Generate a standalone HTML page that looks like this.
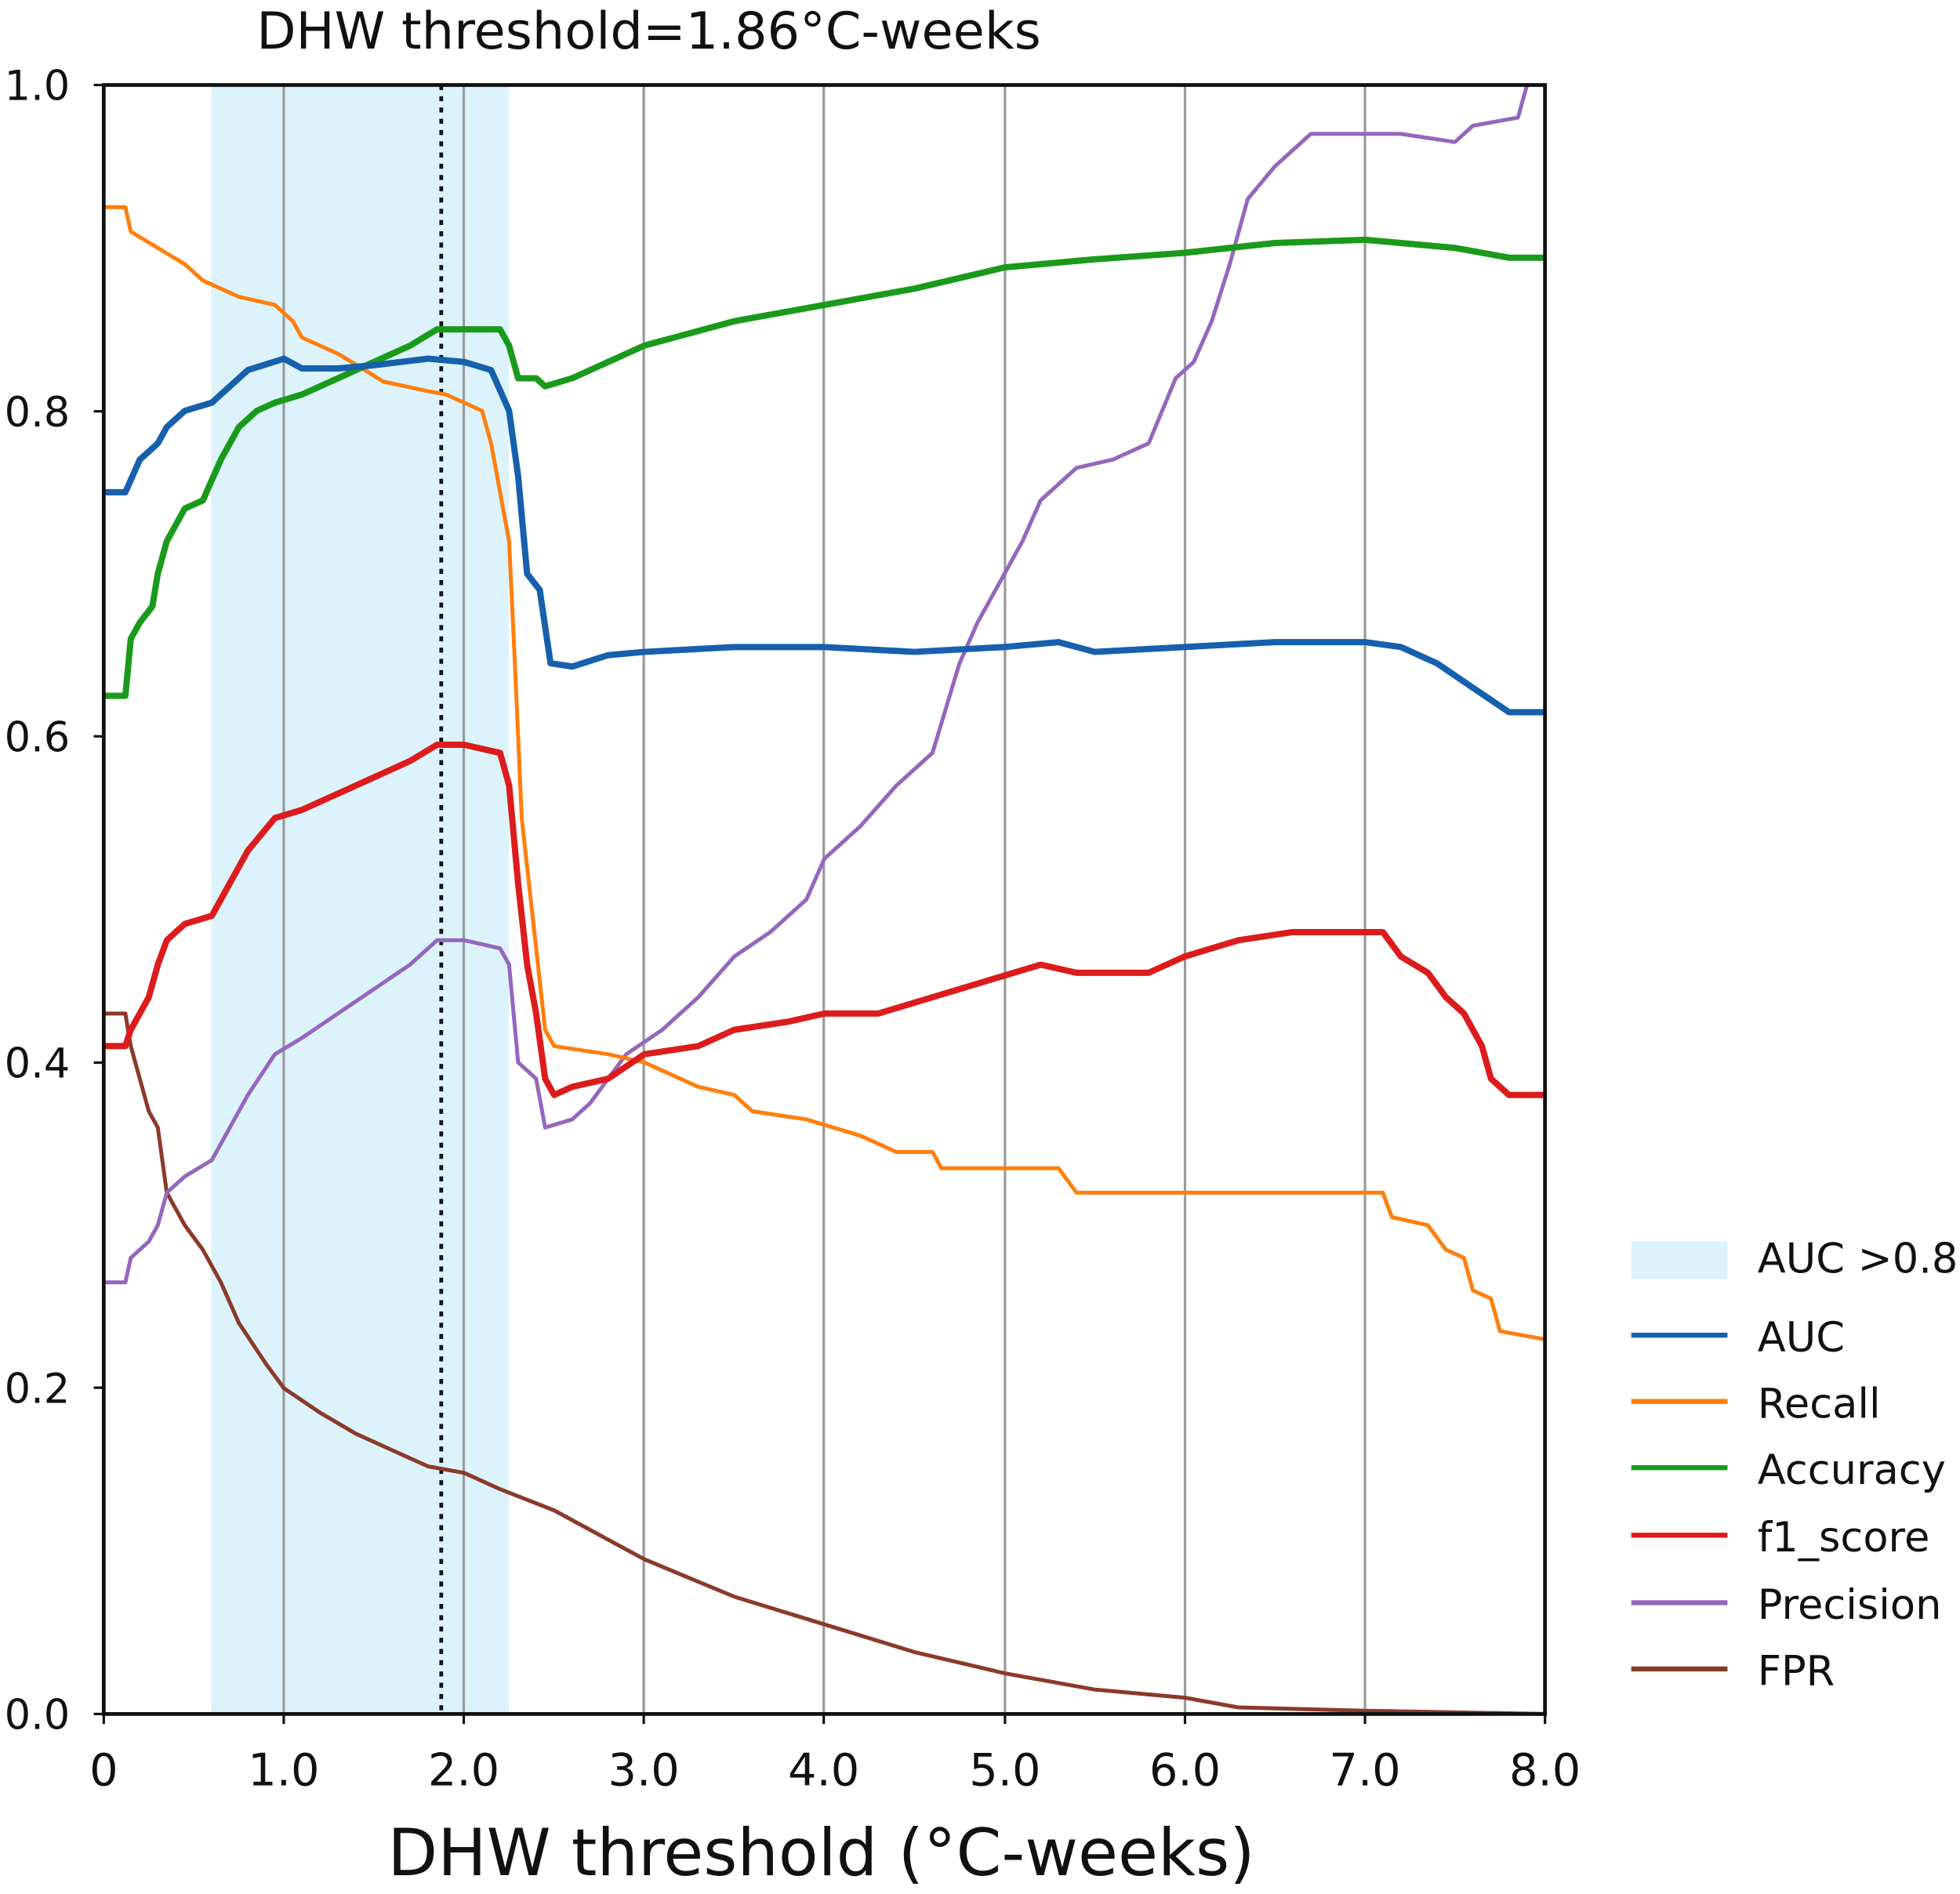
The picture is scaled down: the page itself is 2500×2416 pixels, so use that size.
<!DOCTYPE html>
<html><head><meta charset="utf-8"><style>
html,body{margin:0;padding:0;background:#fff}
svg{display:block}
text{font-family:"DejaVu Sans","Liberation Sans",sans-serif;fill:#111}
</style></head><body>
<svg width="2500" height="2416" viewBox="0 0 1568 1515" preserveAspectRatio="none" xmlns="http://www.w3.org/2000/svg">
<rect width="1568" height="1515" fill="#fff"/>
<text x="519" y="39" font-size="41" text-anchor="middle">DHW threshold=1.86°C-weeks</text>
<rect x="169" y="68" width="238" height="1303" fill="#dcf3fb"/>
<g stroke="#9a9a9a" stroke-width="2">
<line x1="227" y1="68" x2="227" y2="1371"/><line x1="371" y1="68" x2="371" y2="1371"/>
<line x1="515" y1="68" x2="515" y2="1371"/><line x1="659" y1="68" x2="659" y2="1371"/>
<line x1="804" y1="68" x2="804" y2="1371"/><line x1="948" y1="68" x2="948" y2="1371"/>
<line x1="1092" y1="68" x2="1092" y2="1371"/>
</g>
<line x1="353" y1="68" x2="353" y2="1371" stroke="#111" stroke-width="3" stroke-dasharray="4,5"/>
<g transform="translate(83,1371) scale(144.125,-1303)" fill="none" stroke-linejoin="round">
<polyline vector-effect="non-scaling-stroke" stroke="#8b3a2a" stroke-width="5" points="0,0.43 0.12,0.43 0.15,0.41 0.2,0.39 0.25,0.37 0.3,0.36 0.35,0.32 0.45,0.30 0.55,0.285 0.65,0.265 0.75,0.24 0.9,0.215 1.0,0.20 1.2,0.185 1.4,0.172 1.6,0.162 1.8,0.152 2.0,0.148 2.2,0.138 2.5,0.125 2.8,0.107 3.0,0.095 3.5,0.072 4.0,0.055 4.5,0.038 5.0,0.025 5.5,0.015 6.0,0.01 6.3,0.004 7.0,0.002 8.0,0.0"/>
<polyline vector-effect="non-scaling-stroke" stroke="#9467bd" stroke-width="5" points="0,0.265 0.12,0.265 0.15,0.28 0.25,0.29 0.3,0.3 0.35,0.32 0.45,0.33 0.6,0.34 0.7,0.36 0.8,0.38 0.95,0.405 1.1,0.415 1.3,0.43 1.5,0.445 1.7,0.46 1.85,0.475 2.0,0.475 2.2,0.47 2.25,0.46 2.3,0.40 2.4,0.39 2.45,0.36 2.6,0.365 2.7,0.375 2.9,0.405 3.1,0.42 3.3,0.44 3.5,0.465 3.7,0.48 3.9,0.50 4.0,0.525 4.2,0.545 4.4,0.57 4.6,0.59 4.75,0.645 4.85,0.67 5.0,0.70 5.1,0.72 5.2,0.745 5.4,0.765 5.6,0.77 5.8,0.78 5.95,0.82 6.05,0.83 6.15,0.855 6.25,0.89 6.35,0.93 6.5,0.95 6.7,0.97 7.2,0.97 7.5,0.965 7.6,0.975 7.85,0.98 7.9,1.0"/>
<polyline vector-effect="non-scaling-stroke" stroke="#ff7f0e" stroke-width="5" points="0,0.925 0.12,0.925 0.15,0.91 0.3,0.90 0.45,0.89 0.55,0.88 0.65,0.875 0.75,0.87 0.95,0.865 1.05,0.855 1.1,0.845 1.2,0.84 1.3,0.835 1.45,0.825 1.55,0.818 1.8,0.812 1.9,0.81 2.0,0.805 2.1,0.80 2.15,0.78 2.2,0.75 2.25,0.72 2.28,0.65 2.32,0.55 2.38,0.49 2.45,0.42 2.5,0.41 2.8,0.405 3.0,0.40 3.3,0.385 3.5,0.38 3.6,0.37 3.9,0.365 4.2,0.355 4.4,0.345 4.6,0.345 4.65,0.335 5.3,0.335 5.4,0.32 6.5,0.32 7.1,0.32 7.15,0.305 7.35,0.30 7.45,0.285 7.55,0.28 7.6,0.26 7.7,0.255 7.75,0.235 8.0,0.23"/>
<polyline vector-effect="non-scaling-stroke" stroke="#dc1c1c" stroke-width="8" points="0,0.41 0.12,0.41 0.15,0.42 0.25,0.44 0.3,0.46 0.35,0.475 0.45,0.485 0.6,0.49 0.7,0.51 0.8,0.53 0.95,0.55 1.1,0.555 1.3,0.565 1.5,0.575 1.7,0.585 1.85,0.595 2.0,0.595 2.2,0.59 2.25,0.57 2.3,0.51 2.35,0.46 2.4,0.43 2.45,0.39 2.5,0.38 2.6,0.385 2.8,0.39 3.0,0.405 3.3,0.41 3.5,0.42 3.8,0.425 4.0,0.43 4.3,0.43 4.6,0.44 4.9,0.45 5.2,0.46 5.4,0.455 5.8,0.455 6.0,0.465 6.3,0.475 6.6,0.48 7.1,0.48 7.2,0.465 7.35,0.455 7.45,0.44 7.55,0.43 7.65,0.41 7.7,0.39 7.8,0.38 8.0,0.38"/>
<polyline vector-effect="non-scaling-stroke" stroke="#1a9a1a" stroke-width="8" points="0,0.625 0.12,0.625 0.15,0.66 0.2,0.67 0.27,0.68 0.3,0.70 0.35,0.72 0.45,0.74 0.55,0.745 0.65,0.77 0.75,0.79 0.85,0.80 0.95,0.805 1.1,0.81 1.3,0.82 1.5,0.83 1.7,0.84 1.85,0.85 2.0,0.85 2.2,0.85 2.25,0.84 2.3,0.82 2.4,0.82 2.45,0.815 2.6,0.82 2.8,0.83 3.0,0.84 3.5,0.855 4.0,0.865 4.5,0.875 5.0,0.888 5.5,0.893 6.0,0.897 6.5,0.903 7.0,0.905 7.5,0.9 7.8,0.894 8.0,0.894"/>
<polyline vector-effect="non-scaling-stroke" stroke="#1660ad" stroke-width="8" points="0,0.75 0.12,0.75 0.2,0.77 0.3,0.78 0.35,0.79 0.45,0.80 0.6,0.805 0.7,0.815 0.8,0.825 1.0,0.832 1.1,0.826 1.3,0.826 1.5,0.828 1.8,0.832 2.0,0.83 2.15,0.825 2.25,0.80 2.3,0.76 2.35,0.70 2.42,0.69 2.48,0.645 2.6,0.643 2.8,0.65 3.0,0.652 3.5,0.655 4.0,0.655 4.5,0.652 5.0,0.655 5.3,0.658 5.5,0.652 6.0,0.655 6.5,0.658 7.0,0.658 7.2,0.655 7.4,0.645 7.6,0.63 7.8,0.615 8.0,0.615"/>
</g>
<rect x="83" y="68" width="1153" height="1303" fill="none" stroke="#111" stroke-width="3"/>
<g stroke="#111" stroke-width="2">
<line x1="75" y1="68" x2="83" y2="68"/><line x1="75" y1="329" x2="83" y2="329"/><line x1="75" y1="589" x2="83" y2="589"/><line x1="75" y1="850" x2="83" y2="850"/><line x1="75" y1="1110" x2="83" y2="1110"/><line x1="75" y1="1371" x2="83" y2="1371"/>
<line x1="83" y1="1371" x2="83" y2="1379"/><line x1="227" y1="1371" x2="227" y2="1379"/><line x1="371" y1="1371" x2="371" y2="1379"/><line x1="515" y1="1371" x2="515" y2="1379"/><line x1="659" y1="1371" x2="659" y2="1379"/><line x1="804" y1="1371" x2="804" y2="1379"/><line x1="948" y1="1371" x2="948" y2="1379"/><line x1="1092" y1="1371" x2="1092" y2="1379"/><line x1="1236" y1="1371" x2="1236" y2="1379"/>
</g>
<g font-size="33" text-anchor="end">
<text x="56" y="80">1.0</text><text x="56" y="341">0.8</text><text x="56" y="601">0.6</text><text x="56" y="862">0.4</text><text x="56" y="1122">0.2</text><text x="56" y="1383">0.0</text>
</g>
<g font-size="36" text-anchor="middle">
<text x="83" y="1428">0</text><text x="227" y="1428">1.0</text><text x="371" y="1428">2.0</text><text x="515" y="1428">3.0</text><text x="659" y="1428">4.0</text><text x="804" y="1428">5.0</text><text x="948" y="1428">6.0</text><text x="1092" y="1428">7.0</text><text x="1236" y="1428">8.0</text>
</g>
<text x="657" y="1500" font-size="52" text-anchor="middle">DHW threshold (°C-weeks)</text>
<rect x="1305" y="993" width="77" height="30" fill="#dcf3fb"/>
<g stroke-width="4">
<line x1="1305" y1="1068" x2="1382" y2="1068" stroke="#1660ad"/>
<line x1="1305" y1="1121" x2="1382" y2="1121" stroke="#ff7f0e"/>
<line x1="1305" y1="1174" x2="1382" y2="1174" stroke="#1a9a1a"/>
<line x1="1305" y1="1228" x2="1382" y2="1228" stroke="#dc1c1c"/>
<line x1="1305" y1="1282" x2="1382" y2="1282" stroke="#9467bd"/>
<line x1="1305" y1="1335" x2="1382" y2="1335" stroke="#8b3a2a"/>
</g>
<g font-size="33">
<text x="1406" y="1018">AUC &gt;0.8</text>
<text x="1406" y="1081">AUC</text>
<text x="1406" y="1134">Recall</text>
<text x="1406" y="1187">Accuracy</text>
<text x="1406" y="1241">f1_score</text>
<text x="1406" y="1295">Precision</text>
<text x="1406" y="1348">FPR</text>
</g>
</svg>
</body></html>
